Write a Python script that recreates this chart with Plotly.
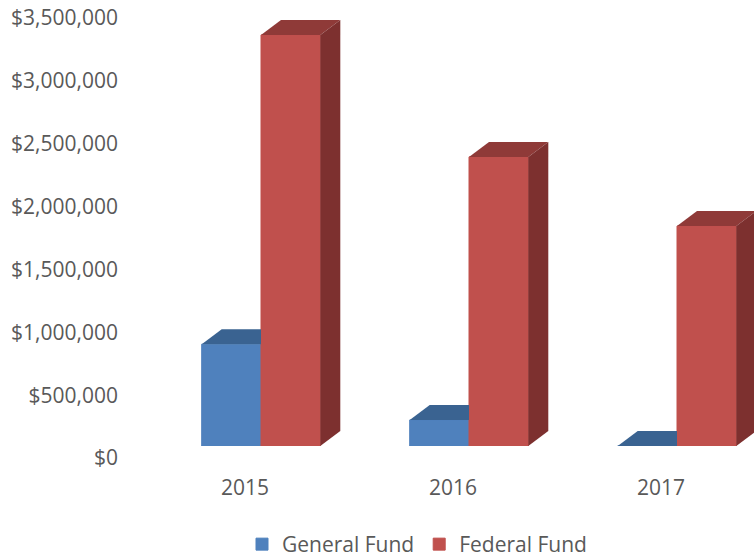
import plotly.graph_objects as go

years = [2015, 2016, 2017]
general_fund = [810000, 207000, 0]
federal_fund = [3270000, 2300000, 1750000]
tick_values = [0, 500000, 1000000, 1500000, 2000000, 2500000, 3000000, 3500000]

W, H = 754, 556
PX_PER_YEAR = 208.0
PX_PER_DOLLAR = 125.7 / 1e6
BASE_PX, LEFT_PX, CENTER_PX = 446, 125, 261
BAR_W = 59.3 / PX_PER_YEAR
DX = 20 / PX_PER_YEAR
DY = 15 / PX_PER_DOLLAR

BLUE, BLUE_TOP = "#4F81BD", "#3A6391"
RED, RED_TOP, RED_SIDE = "#C0504D", "#8F3A38", "#7D302F"
FONT = "Open Sans"
GREY = "#595959"


def poly(fig, xs, ys, color):
    fig.add_trace(go.Scatter(x=xs, y=ys, mode="lines", fill="toself", fillcolor=color,
                             line=dict(width=0, color=color), showlegend=False, hoverinfo="skip"))


fig = go.Figure()
fig.add_trace(go.Bar(x=years, y=general_fund, name="General Fund", marker_color=BLUE,
                     marker_line=dict(width=1, color=BLUE)))
fig.add_trace(go.Bar(x=years, y=federal_fund, name="Federal Fund", marker_color=RED,
                     marker_line=dict(width=1, color=RED)))

for yr, g, f in zip(years, general_fund, federal_fund):
    # General Fund top (its right part hides behind the Federal Fund bar)
    poly(fig, [yr - BAR_W, yr - BAR_W + DX, yr, yr, yr - BAR_W],
         [g, g + DY, g + DY, g, g], BLUE_TOP)
    # Federal Fund top
    poly(fig, [yr, yr + DX, yr + BAR_W + DX, yr + BAR_W, yr],
         [f, f + DY, f + DY, f, f], RED_TOP)
    # Federal Fund side
    poly(fig, [yr + BAR_W, yr + BAR_W + DX, yr + BAR_W + DX, yr + BAR_W, yr + BAR_W],
         [0, DY, f + DY, f, 0], RED_SIDE)

fig.update_layout(
    width=W, height=H, margin=dict(l=0, r=0, t=0, b=0, autoexpand=False),
    paper_bgcolor="white", plot_bgcolor="white",
    barmode="group", bargap=1 - 2 * BAR_W, bargroupgap=0,
    font=dict(family=FONT, size=21, color=GREY),
    showlegend=True,
    legend=dict(orientation="h", x=242 / W, xanchor="left", y=(H - 524) / H, yanchor="top",
                font=dict(size=21, color=GREY), traceorder="normal",
                itemwidth=30, bgcolor="rgba(0,0,0,0)"),
    xaxis=dict(domain=[LEFT_PX / W, 1],
               range=[years[0] - (CENTER_PX - LEFT_PX) / PX_PER_YEAR,
                      years[0] + (W - CENTER_PX) / PX_PER_YEAR],
               tickmode="array", tickvals=years, ticktext=[str(y) for y in years],
               showgrid=False, zeroline=False, showline=False, ticks="",
               ticklabelshift=-16, ticklabelstandoff=27, tickfont=dict(size=21, color=GREY)),
    yaxis=dict(domain=[(H - BASE_PX) / H, 1], range=[0, BASE_PX / PX_PER_DOLLAR],
               tickmode="array", tickvals=tick_values,
               ticktext=[f"${v:,}" for v in tick_values],
               showgrid=False, zeroline=False, showline=False, ticks="",
               ticklabelshift=12, ticklabelstandoff=6, tickfont=dict(size=21, color=GREY)),
)

fig.write_html("out.html", post_script="document.body.style.margin='0';",
               config={"displayModeBar": False})
